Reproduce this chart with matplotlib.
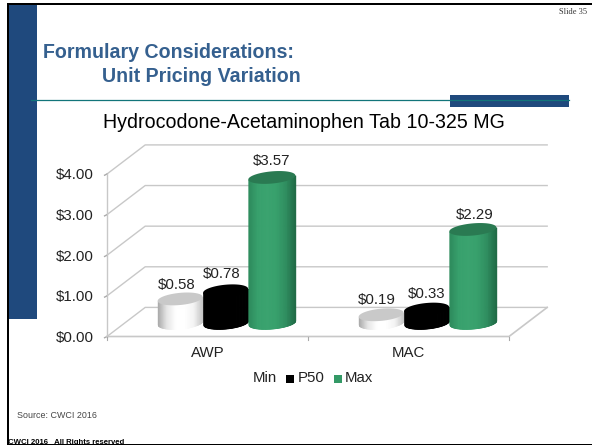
import numpy as np
import matplotlib
matplotlib.use("Agg")
import matplotlib.pyplot as plt
from matplotlib.colors import LinearSegmentedColormap
from matplotlib.patches import Rectangle

categories = ["AWP", "MAC"]
series_names = ["Min", "P50", "Max"]
min_values = [0.58, 0.19]
p50_values = [0.78, 0.33]
max_values = [3.57, 2.29]
y_ticks = [0, 1, 2, 3, 4]
y_tick_labels = ["$0.00", "$1.00", "$2.00", "$3.00", "$4.00"]

W, H = 592, 445
plt.rcParams["font.family"] = ["Liberation Sans", "DejaVu Sans"]
fig = plt.figure(figsize=(W / 100, H / 100), dpi=100, facecolor="white")

# slide furniture, in pixel coordinates
bg = fig.add_axes([0, 0, 1, 1], zorder=0)
bg.set_xlim(0, W); bg.set_ylim(H, 0); bg.axis("off")
NAVY = "#1f497d"
bg.add_patch(Rectangle((8.5, 5), 28.5, 314, color=NAVY, lw=0))
bg.add_patch(Rectangle((450, 95), 119, 11.7, color=NAVY, lw=0))
bg.plot([31, 569], [99.5, 99.5], color="#12757a", lw=0.9)
bg.add_patch(Rectangle((6.5, 3.3), 585.5, 2, color="black", lw=0, zorder=5))
bg.add_patch(Rectangle((6.5, 3.3), 2.2, 441.7, color="black", lw=0, zorder=5))
bg.add_patch(Rectangle((6.5, 443.8), 585.5, 1.2, color="black", lw=0, zorder=5))
TITLE = "#35608f"
bg.text(43, 52, "Formulary Considerations:", color=TITLE, fontsize=14.1, fontweight="bold", va="center")
bg.text(102, 76, "Unit Pricing Variation", color=TITLE, fontsize=14.1, fontweight="bold", va="center")
bg.text(103, 123, "Hydrocodone-Acetaminophen Tab 10-325 MG", color="black", fontsize=14.15, va="center")
bg.text(587, 11.7, "Slide 35", family="Liberation Serif", fontsize=6, ha="right", va="center", color="#333333")
bg.text(17, 415, "Source: CWCI 2016", fontsize=6.4, color="#444444", va="center")
bg.text(8.5, 442.5, "CWCI 2016   All Rights reserved", fontsize=5.6, fontweight="bold", color="black", va="center")

# legend
FS = 10.8
bg.text(253, 378.5, series_names[0], fontsize=FS, color="#222222", va="center")
bg.add_patch(Rectangle((286, 375), 8, 8, color="black", lw=0))
bg.text(297.5, 378.5, series_names[1], fontsize=FS, color="#222222", va="center")
bg.add_patch(Rectangle((334, 375), 8, 8, color="#339966", lw=0))
bg.text(345, 378.5, series_names[2], fontsize=FS, color="#222222", va="center")

# chart: the front plane of the 3-D box is the axes rectangle
ax = fig.add_axes([107 / W, 1 - 336.5 / H, 402 / W, 162.5 / H], zorder=1)
ax.patch.set_alpha(0)
ax.set_xlim(0, 2); ax.set_ylim(0, 4)
for s in ax.spines.values():
    s.set_visible(False)
ax.set_xticks([0.5, 1.5], categories)
ax.set_yticks(y_ticks, y_tick_labels)
ax.tick_params(axis="both", length=0, labelsize=FS, labelcolor="#222222")
ax.tick_params(axis="x", pad=6.5)
ax.tick_params(axis="y", pad=9.4)

GRID = "#c8c8c8"
DX, DY = 0.19, 0.716
for v in y_ticks:
    ax.plot([0, DX, 2 + DX], [v, v + DY, v + DY], color=GRID, lw=1, clip_on=False, zorder=1)
    ax.plot([-0.012, 0], [v - 0.03, v], color="#aaaaaa", lw=1, clip_on=False, zorder=1)
ax.plot([0, 0], [0, 4], color=GRID, lw=1, clip_on=False, zorder=1)
ax.plot([0, 2, 2 + DX], [0, 0, DY], color=GRID, lw=1.2, clip_on=False, zorder=1)
for x in [0, 1, 2]:
    ax.plot([x, x], [0, -0.08], color="#aaaaaa", lw=0.8, clip_on=False, zorder=1)

maps = [
    (LinearSegmentedColormap.from_list("m", ["#a8a8a8", "#e6e6e6", "#ffffff", "#ffffff", "#f4f4f4", "#c4c4c4"]), "#c9c9c9"),
    (LinearSegmentedColormap.from_list("p", ["#000000", "#000000"]), "#000000"),
    (LinearSegmentedColormap.from_list("x", ["#2c8a5b", "#37a06c", "#3aa36f", "#37a06c", "#2f8d5f", "#1f6a45"]), "#2a7a52"),
]
BAR_W = [0.112, 0.112, 0.117]
OFFS = [-0.226, 0, 0.23]
RY, SLOPE = 0.15, 0.05
SHIFT_X, SHIFT_Y = 0.09, 0.345
LABEL_DX = [[-0.015, -0.022, -0.002], [-0.022, -0.002, 0.01]]
LABEL_DY = [[0.34, 0.42, 0.41], [0.37, 0.36, 0.36]]


def cylinder(cx, value, rx, cmap, cap, z):
    base = SHIFT_Y
    top = value + SHIFT_Y
    u = np.linspace(-1, 1, 61)
    for a, b in zip(u[:-1], u[1:]):
        m = np.linspace(a, b, 4)
        arc = RY * np.sqrt(np.clip(1 - m ** 2, 0, 1))
        col = cmap((a + b + 2) / 4)
        ax.fill_between(cx + rx * m, base - arc + SLOPE * m, top + SLOPE * m,
                        color=col, lw=0.5, clip_on=False, zorder=z)
    t = np.linspace(0, 2 * np.pi, 80)
    ax.fill(cx + rx * np.cos(t), top + RY * np.sin(t) + SLOPE * np.cos(t),
            color=cap, lw=0, clip_on=False, zorder=z + 0.1)


all_values = [min_values, p50_values, max_values]
for c in range(len(categories)):
    for s, vals in enumerate(all_values):
        cx = c + 0.5 + SHIFT_X + OFFS[s]
        cmap, cap = maps[s]
        cylinder(cx, vals[c], BAR_W[s], cmap, cap, 3 + s)
        ax.text(cx + LABEL_DX[c][s], vals[c] + SHIFT_Y + LABEL_DY[c][s],
                f"${vals[c]:.2f}", ha="center", va="center", fontsize=FS, color="#222222",
                clip_on=False, zorder=10)

fig.savefig("out.png", dpi=100)
